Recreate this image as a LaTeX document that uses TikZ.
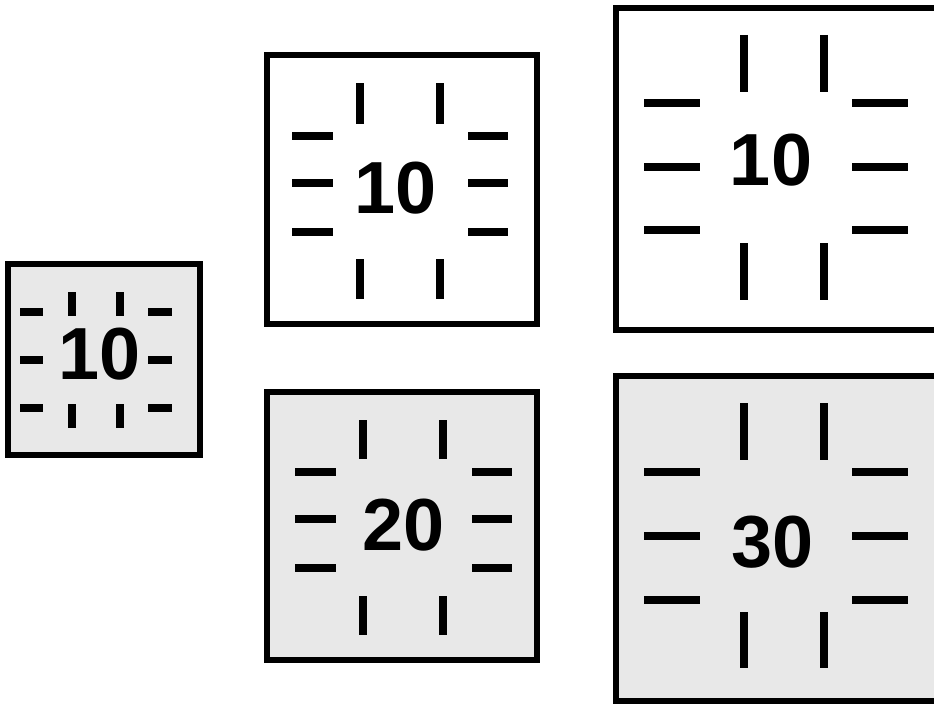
\documentclass[tikz,border=0pt]{standalone}
\usepackage{fontspec}
\setmainfont{Liberation Sans}
\definecolor{boxgray}{RGB}{232,232,232}
\tikzset{
  box/.style={draw, line width=0.18cm, inner sep=0pt},
  tick/.style={line width=0.225cm},
  num/.style={inner sep=0pt, font=\bfseries\fontsize{63}{63}\selectfont}
}
\begin{document}
\begin{tikzpicture}[x=0.03cm, y=-0.03cm]
  \useasboundingbox (0,0) rectangle (934,703);
  % small box
  \node[box, fill=boxgray, minimum width=5.76cm, minimum height=5.73cm] (small) at (104,359.5) {};
  \node[num] (smalltxt) at (100,354) {10};
  \foreach \y in {312,360,408}
    \draw[tick] (20,\y) -- (43,\y) (148,\y) -- (172,\y);
  \foreach \x in {72,120}
    \draw[tick] (\x,292) -- (\x,316) (\x,404) -- (\x,428);
  % middle column
  \node[box, fill=white, minimum width=8.1cm, minimum height=8.07cm] (midtop) at (402,189.5) {};
  \node[num] (midtoptxt) at (396,188) {10};
  \foreach \y in {136,183,232}
    \draw[tick] (292,\y) -- (333,\y) (468,\y) -- (508,\y);
  \foreach \x in {360,440}
    \draw[tick] (\x,83) -- (\x,124) (\x,259) -- (\x,299);
  \node[box, fill=boxgray, minimum width=8.1cm, minimum height=8.04cm] (midbot) at (402,526) {};
  \node[num] (midbottxt) at (404,525) {20};
  \foreach \y in {472,519,568}
    \draw[tick] (295,\y) -- (336,\y) (472,\y) -- (512,\y);
  \foreach \x in {363,443}
    \draw[tick] (\x,420) -- (\x,459) (\x,596) -- (\x,635);
  % right column
  \node[box, fill=white, minimum width=9.78cm, minimum height=9.66cm] (righttop) at (779,169) {};
  \node[num] (righttoptxt) at (771,160) {10};
  \foreach \y in {103,167,230}
    \draw[tick] (644,\y) -- (700,\y) (852,\y) -- (908,\y);
  \foreach \x in {744,824}
    \draw[tick] (\x,35) -- (\x,92) (\x,243) -- (\x,300);
  \node[box, fill=boxgray, minimum width=9.78cm, minimum height=9.75cm] (rightbot) at (779,538.5) {};
  \node[num] (rightbottxt) at (772.5,542) {30};
  \foreach \y in {472,536,600}
    \draw[tick] (644,\y) -- (700,\y) (852,\y) -- (908,\y);
  \foreach \x in {744,824}
    \draw[tick] (\x,403) -- (\x,460) (\x,612) -- (\x,668);
\end{tikzpicture}
\end{document}
